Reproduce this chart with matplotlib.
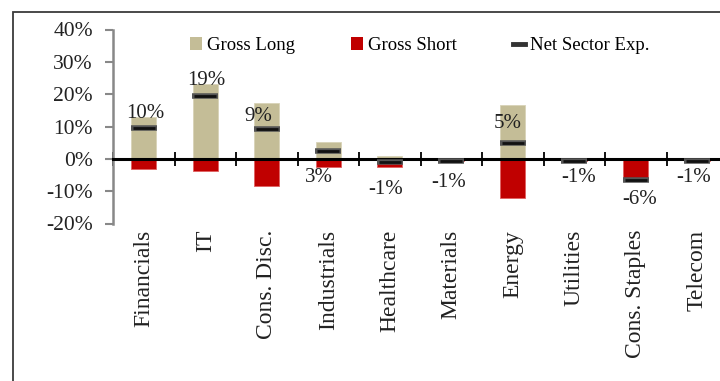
import matplotlib
matplotlib.use("Agg")
import matplotlib.pyplot as plt
from matplotlib.patches import Patch, Rectangle
from matplotlib.lines import Line2D
from matplotlib.ticker import FuncFormatter, MultipleLocator
import numpy as np

plt.rcParams['font.family'] = ['Liberation Serif', 'DejaVu Serif']

sectors = ['Financials', 'IT', 'Cons. Disc.', 'Industrials', 'Healthcare',
           'Materials', 'Energy', 'Utilities', 'Cons. Staples', 'Telecom']
gross_long = [12.8, 23.0, 17.2, 5.1, 0.8, 0.1, 16.5, 0.1, 0.0, 0.0]
gross_short = [-3.2, -3.8, -8.5, -2.6, -2.4, -0.7, -12.2, -0.7, -6.0, -0.7]
net_exp = [9.6, 19.3, 9.1, 2.5, -1.1, -0.6, 4.9, -0.6, -6.5, -0.6]
net_labels = ['10%', '19%', '9%', '3%', '-1%', '-1%', '5%', '-1%', '-6%', '-1%']

# label nudges in pixels (excel placed these by hand)
label_dx = [2, 1, -8, -9, -4, -3, -5, 4, 4, -4]
label_dy = [14, 16, 13, -27, -27, -22, 19, -17, -20, -17]

tan = '#C4BD97'
red = '#C00000'

fig = plt.figure(figsize=(7.2, 3.81), dpi=100)
ax = fig.add_axes([113 / 720, 157.5 / 381, 615 / 720, 194 / 381])

x = np.arange(len(sectors))
ax.bar(x, gross_long, width=0.41, color=tan, edgecolor='#d8d3b8', linewidth=0.6, zorder=2)
ax.bar(x, gross_short, width=0.41, color=red, edgecolor='#e06060', linewidth=0.6, zorder=2)

# net marker: gray outline with black core
ax.plot(x, net_exp, ls='none', marker='_', ms=18.5, mew=4.0, color='#555555', zorder=4)
ax.plot(x, net_exp, ls='none', marker='_', ms=16.5, mew=2.0, color='#111111', zorder=5)

for i in range(len(sectors)):
    ax.annotate(net_labels[i], (x[i], net_exp[i]), xytext=(label_dx[i], label_dy[i]),
                textcoords='offset pixels', ha='center', va='center',
                fontsize=15, color='#222222', zorder=6)

ax.set_xlim(-0.5, len(sectors) - 0.5)
ax.set_ylim(-20, 40)
ax.yaxis.set_major_locator(MultipleLocator(10))
ax.yaxis.set_major_formatter(FuncFormatter(lambda v, p: '%d%%' % v))

for s in ['top', 'right']:
    ax.spines[s].set_visible(False)
ax.spines['left'].set_color('#888888')
ax.spines['left'].set_linewidth(1.8)
ax.spines['bottom'].set_position(('data', 0))
ax.spines['bottom'].set_color('black')
ax.spines['bottom'].set_linewidth(2.2)
ax.spines['bottom'].set_zorder(3)

ax.tick_params(axis='y', direction='out', length=5.5, width=1.5, color='#888888',
               labelsize=15.5, labelcolor='#222222', pad=9)

ax.set_xticks(x)
ax.set_xticklabels(sectors, rotation=90, fontsize=17, color='#222222', va='top')
ax.set_xticks(np.arange(len(sectors) + 1) - 0.5, minor=True)
ax.tick_params(axis='x', which='major', length=0, pad=51)
ax.tick_params(axis='x', which='minor', direction='inout', length=10, width=1.3, color='black')

handles = [Patch(facecolor=tan, edgecolor='none'),
           Patch(facecolor=red, edgecolor='none'),
           Line2D([], [], color='#333333', lw=3.5)]
fig.legend(handles, ['Gross Long', 'Gross Short', 'Net Sector Exp.'],
           loc='upper left', bbox_to_anchor=(190 / 720, 1 - 37 / 381), ncol=3,
           frameon=False, fontsize=13.5, handlelength=0.65, handleheight=0.65,
           handletextpad=0.25, columnspacing=3.0, borderpad=0, borderaxespad=0)

# outer chart frame, cropped on the right and bottom
fig.patches.append(Rectangle((13 / 720, -0.1), 1.2, 1.1 - 12 / 381, transform=fig.transFigure,
                             fill=False, edgecolor='#3a3a3a', linewidth=1.3, clip_on=False))

fig.savefig('out.png', dpi=100)
